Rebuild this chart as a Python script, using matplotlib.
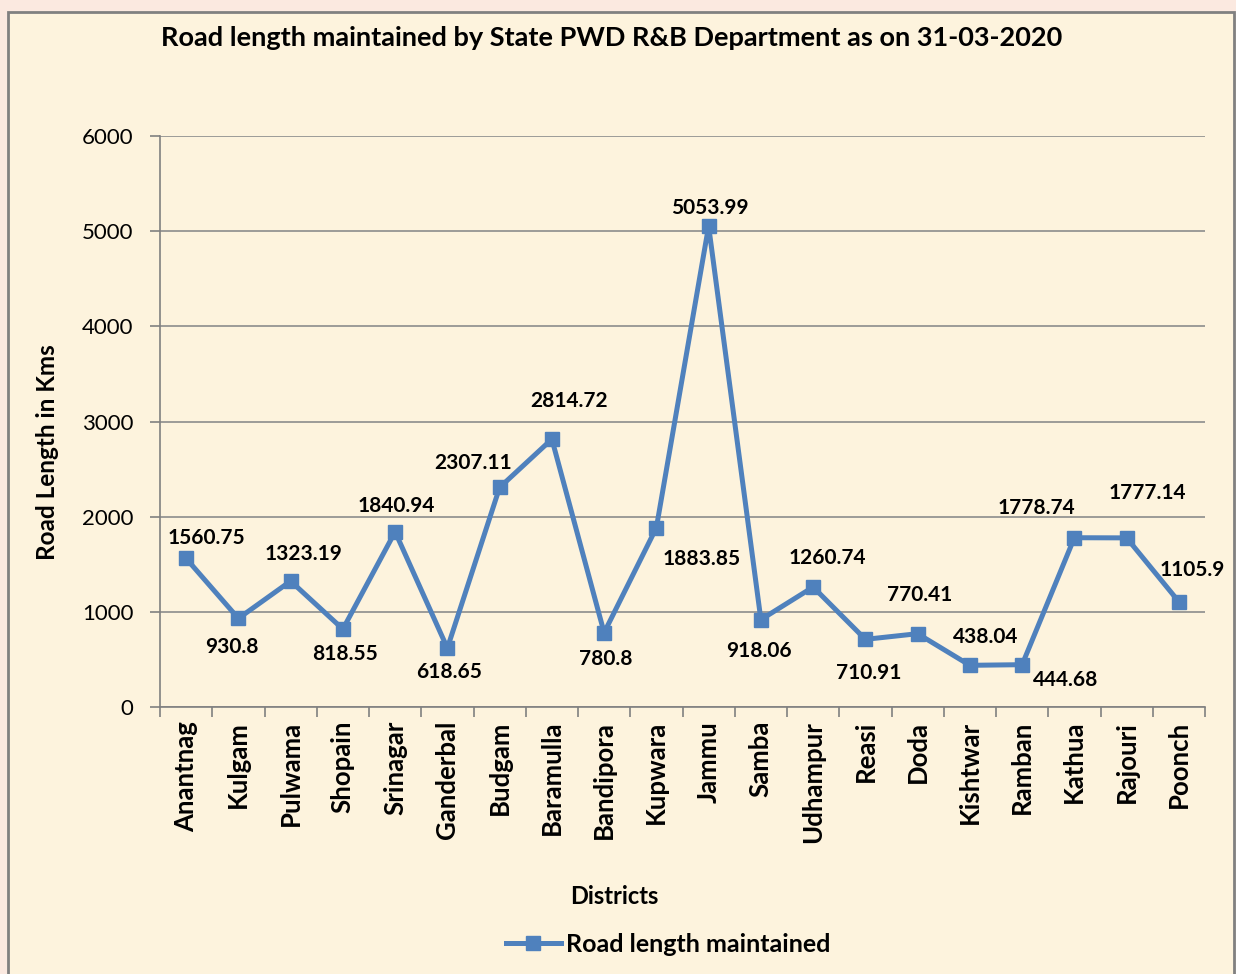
import matplotlib
matplotlib.use('Agg')
import matplotlib.pyplot as plt
from matplotlib.patches import Rectangle

# data
districts = ['Anantnag', 'Kulgam', 'Pulwama', 'Shopain', 'Srinagar', 'Ganderbal',
             'Budgam', 'Baramulla', 'Bandipora', 'Kupwara', 'Jammu', 'Samba',
             'Udhampur', 'Reasi', 'Doda', 'Kishtwar', 'Ramban', 'Kathua',
             'Rajouri', 'Poonch']
road_len = [1560.75, 930.8, 1323.19, 818.55, 1840.94, 618.65, 2307.11, 2814.72,
            780.8, 1883.85, 5053.99, 918.06, 1260.74, 710.91, 770.41, 438.04,
            444.68, 1778.74, 1777.14, 1105.9]
value_labels = ['1560.75', '930.8', '1323.19', '818.55', '1840.94', '618.65',
                '2307.11', '2814.72', '780.8', '1883.85', '5053.99', '918.06',
                '1260.74', '710.91', '770.41', '438.04', '444.68', '1778.74',
                '1777.14', '1105.9']
# label offsets in pixels (dx, dy)
label_off = [(20, 20), (-6, -29), (13, 27), (2, -25), (1, 26), (2, -24),
             (-27, 24), (17, 38), (2, -26), (45, -31), (1, 18), (-2, -31),
             (14, 29), (3, -34), (2, 39), (16, 28), (44, -15), (-38, 30),
             (21, 45), (13, 32)]

plt.rcParams['font.family'] = ['Lato', 'DejaVu Sans']

blue = '#4F81BD'
fig = plt.figure(figsize=(12.36, 9.74), dpi=100)
fig.patch.set_facecolor('#FBE9E0')
fig.patches.append(Rectangle((8 / 1236, -0.05), 1226 / 1236, 1 - 12 / 974 + 0.05,
                             transform=fig.transFigure, facecolor='#FDF3DD',
                             edgecolor='#808080', linewidth=2, zorder=-10))

ax = fig.add_axes([160 / 1236, 1 - 707 / 974, 1045 / 1236, 571 / 974])
ax.set_facecolor('none')
x = list(range(len(districts)))
ax.plot(x, road_len, color=blue, linewidth=3.6, marker='s', markersize=10.5,
        label='Road length maintained', zorder=3)

for i, (v, t) in enumerate(zip(road_len, value_labels)):
    ax.annotate(t, (i, v), xytext=label_off[i], textcoords='offset pixels',
                ha='center', va='center', fontsize=15, fontweight='bold')

ax.set_xlim(-0.5, len(districts) - 0.5)
ax.set_ylim(0, 6000)
ax.set_yticks(range(0, 6001, 1000))
ax.tick_params(axis='y', labelsize=16, length=7, color='#808080', width=1.2, pad=12)
ax.grid(axis='y', color='#8C8C8C', linewidth=1.2)
ax.set_axisbelow(True)

ax.set_xticks(x)
ax.set_xticklabels(districts, rotation=90, fontsize=18.5, fontweight='bold')
ax.set_xticks([i - 0.5 for i in range(len(districts) + 1)], minor=True)
ax.tick_params(axis='x', which='major', length=0, pad=10)
ax.tick_params(axis='x', which='minor', length=7, color='#808080', width=1.2)

for s in ['top', 'right']:
    ax.spines[s].set_visible(False)
for s in ['left', 'bottom']:
    ax.spines[s].set_color('#808080')
    ax.spines[s].set_linewidth(1.2)

ax.set_ylabel('Road Length in Kms', fontsize=17.5, fontweight='bold', va='center')
ax.yaxis.set_label_coords((48 - 160) / 1045, (707 - 452) / 571)
ax.set_xlabel('Districts', fontsize=17, fontweight='bold', va='center')
ax.xaxis.set_label_coords((614 - 160) / 1045, (707 - 897) / 571)

fig.text(612 / 1236, 1 - 38 / 974,
         'Road length maintained by State PWD R&B Department as on 31-03-2020',
         ha='center', va='center', fontsize=19.5, fontweight='bold')

fig.legend(loc='center', bbox_to_anchor=(668 / 1236, 1 - 944 / 974), frameon=False,
           prop={'weight': 'bold', 'size': 18}, handlelength=2.2,
           handletextpad=0.2)

fig.savefig('out.png', dpi=100, facecolor=fig.get_facecolor())
